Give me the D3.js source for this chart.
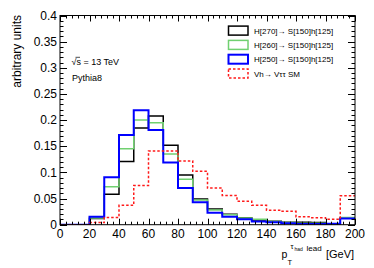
<!DOCTYPE html>
<html><head><meta charset="utf-8">
<script src="https://cdn.jsdelivr.net/npm/d3@7"></script>
<style>body{margin:0;background:#fff}svg{display:block;font-family:"Liberation Sans",Arial,Helvetica,sans-serif}</style>
</head><body><svg id="c" width="374" height="268"></svg>
<script>
const binEdges = [0,10,20,30,40,50,60,70,80,90,100,110,120,130,140,150,160,170,180,190,200];
const h270 = [0,0,0.012,0.058,0.121,0.185,0.208,0.152,0.095,0.049,0.030,0.020,0.0134,0.007,0.0064,0.0045,0.0045,0.004,0.002,0.013];
const h260 = [0,0,0.013,0.0727,0.145,0.200,0.195,0.135,0.087,0.047,0.028,0.019,0.013,0.0103,0.0062,0.004,0.003,0.003,0.002,0.014];
const h250 = [0,0,0.0153,0.0906,0.1715,0.219,0.181,0.119,0.070,0.043,0.023,0.0153,0.0103,0.006,0.0045,0.003,0.0015,0.0015,0.002,0.012];
const vhSM = [0,0,0.004,0.014,0.037,0.075,0.141,0.141,0.122,0.102,0.070,0.056,0.045,0.037,0.0275,0.0255,0.015,0.0135,0.0103,0.0555];
const seriesNames = ["H[270]\u2192 S[150]h[125]","H[260]\u2192 S[150]h[125]","H[250]\u2192 S[150]h[125]","Vh\u2192 V\u03c4\u03c4 SM"];
const xTicks = [0,20,40,60,80,100,120,140,160,180,200];
const yTicks = [0,0.05,0.1,0.15,0.2,0.25,0.3,0.35,0.4];

const L=60,R=355,T=15.5,B=224.7;
const svg=d3.select("#c");
const x=d3.scaleLinear().domain([0,200]).range([L,R]);
const y=d3.scaleLinear().domain([0,0.4]).range([B,T]);

svg.append("defs").append("clipPath").attr("id","cp").append("rect")
  .attr("x",L).attr("y",T).attr("width",R-L).attr("height",B-T);

const styles=[
  {data:h270,color:"#000000",w:1.5,dash:null},
  {data:h260,color:"#70d070",w:1.5,dash:null},
  {data:h250,color:"#0000ff",w:2,dash:null},
  {data:vhSM,color:"#ff1a1a",w:1.5,dash:"2.5,2"}
];
const line=d3.line().x(d=>x(d[0])).y(d=>y(d[1])).curve(d3.curveStepAfter);
const g=svg.append("g").attr("clip-path","url(#cp)");
styles.forEach(s=>{
  const pts=s.data.map((v,i)=>[binEdges[i],v]);
  pts.push([200,s.data[s.data.length-1]]);
  g.append("path").attr("d",line(pts)).attr("fill","none")
   .attr("stroke",s.color).attr("stroke-width",s.w)
   .attr("stroke-dasharray",s.dash);
});

// frame
svg.append("rect").attr("x",L).attr("y",T).attr("width",R-L).attr("height",B-T)
  .attr("fill","none").attr("stroke","#000").attr("stroke-width",1);

// ticks
const tk=svg.append("g").attr("stroke","#000").attr("stroke-width",1);
d3.range(0,200.001,4).forEach(v=>{
  const major=Math.abs(v%20)<1e-6; const len=major?6:3; const px=Math.round(x(v))+0.5;
  tk.append("line").attr("x1",px).attr("x2",px).attr("y1",B).attr("y2",B-len);
  tk.append("line").attr("x1",px).attr("x2",px).attr("y1",T).attr("y2",T+len);
});
d3.range(0,0.4001,0.01).forEach(v=>{
  const major=Math.abs((v*100)%5)<1e-6||Math.abs((v*100)%5-5)<1e-6; const len=major?7:3.5; const py=Math.round(y(v))+0.5;
  tk.append("line").attr("x1",L).attr("x2",L+len).attr("y1",py).attr("y2",py);
  tk.append("line").attr("x1",R).attr("x2",R-len).attr("y1",py).attr("y2",py);
});

// tick labels
const fmt=v=>String(+v.toFixed(2));
svg.append("g").selectAll("text").data(xTicks).join("text")
  .attr("x",d=>x(d)).attr("y",237.5).attr("text-anchor","middle")
  .attr("font-size",12).text(d=>d);
svg.append("g").selectAll("text").data(yTicks).join("text")
  .attr("x",57).attr("y",d=>y(d)+4.2).attr("text-anchor","end")
  .attr("font-size",12).text(d=>fmt(d));

// axis titles
svg.append("text").attr("transform","translate(21,15) rotate(-90)")
  .attr("text-anchor","end").attr("font-size",12).text("arbitrary units");
const xt=svg.append("g");
xt.append("text").attr("x",281.5).attr("y",257.5).attr("font-size",10.5).text("p");
xt.append("text").attr("x",287.5).attr("y",265).attr("font-size",7.5).text("T");
xt.append("text").attr("x",290.5).attr("y",248.5).attr("font-size",7.5).text("\u03c4");
xt.append("text").attr("x",294.5).attr("y",250.5).attr("font-size",5).text("had");
xt.append("text").attr("x",306.5).attr("y",250.5).attr("font-size",8).text("lead");
xt.append("text").attr("x",326).attr("y",257.5).attr("font-size",11).text("[GeV]");

// annotations
const ann=svg.append("g").attr("font-size",9);
ann.append("text").attr("x",71.5).attr("y",65).text("\u221As = 13 TeV");
ann.append("line").attr("x1",75.5).attr("x2",80).attr("y1",57.3).attr("y2",57.3).attr("stroke","#000").attr("stroke-width",0.7);
ann.append("text").attr("x",72).attr("y",81).text("Pythia8");

// legend
const lg=svg.append("g");
seriesNames.forEach((n,i)=>{
  const cy=30.6+i*14.3; const s=styles[i];
  lg.append("rect").attr("x",228.5).attr("y",cy-4.5).attr("width",19.5).attr("height",9)
    .attr("fill","none").attr("stroke",s.color).attr("stroke-width",s.w)
    .attr("stroke-dasharray",s.dash);
  lg.append("text").attr("x",254).attr("y",cy+3.2).attr("font-size",8).text(n);
});
</script></body></html>
